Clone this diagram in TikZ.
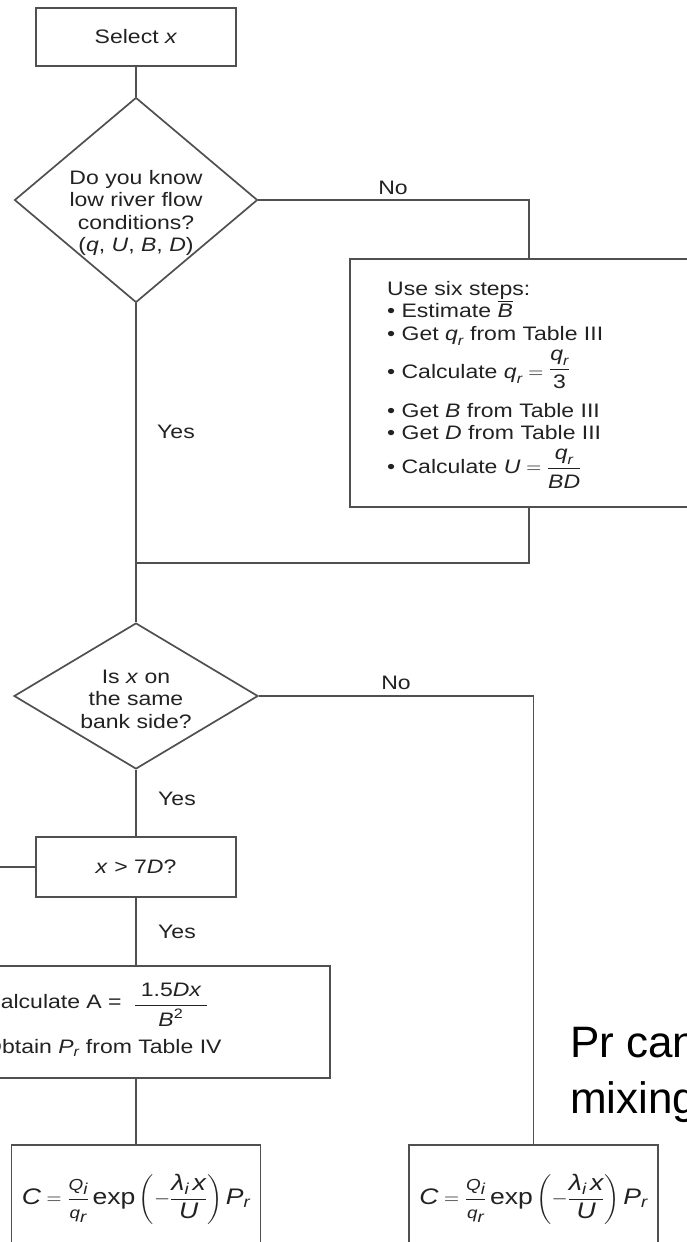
\documentclass[tikz,border=0pt]{standalone}
\usepackage{amsmath}
\usepackage{fontspec}
\setmainfont{Liberation Sans}[FakeStretch=1.18]
\newfontfamily\slidefont{Liberation Sans}
\usetikzlibrary{shapes.geometric}
\definecolor{ln}{HTML}{505050}
\definecolor{tx}{HTML}{222222}
\newcommand\iv[1]{\text{\itshape #1}}
\newcommand\up[1]{\text{#1}}
\newcommand\sm[1]{\text{\fontsize{16}{16}\selectfont\itshape #1}}
\newcommand\tightlines{\lineskiplimit=-100pt\relax}
\begin{document}
\begin{tikzpicture}[x=1pt,y=-1pt,
  every node/.style={text=tx},
  base/.style={font=\fontsize{19.5}{22.5}\selectfont},
  box/.style={draw=ln,line width=1.7pt,rectangle,inner sep=0pt},
  dia/.style={draw=ln,line width=1.7pt,diamond,inner sep=0pt},
  lbl/.style={base,inner sep=0pt},
  conn/.style={draw=ln,line width=1.7pt}]
\useasboundingbox (0,0) rectangle (687,1242);
\clip (0,0) rectangle (687,1242);
\fill[white] (0,0) rectangle (687,1242);
% nodes
\node[box,base,minimum width=200,minimum height=58] (sel) at (136,37) {Select \textit{x}};
\node[dia,minimum width=243,minimum height=205] (d1) at (136,200) {};
\node[lbl,align=center] (d1t) at (136,213) {Do you know\\low river flow\\conditions?\\(\textit{q}, \textit{U}, \textit{B}, \textit{D})};
\node[box,minimum width=358,minimum height=248] (six) at (529,383) {};
\node[lbl,align=left,anchor=north west,font=\fontsize{19.5}{22.5}\selectfont\tightlines] (sixt) at (387,281)
 {Use six steps:\\
  • Estimate $\overline{\iv{B}}$\\
  • Get $\iv{q}_{\iv{r}}$ from Table III\\[15.5pt]
  • Calculate $\iv{q}_{\iv{r}}= \raisebox{4pt}{$\dfrac{\iv{q}_{\iv{r}}}{\up{3}}$}$\\[16.5pt]
  • Get \textit{B} from Table III\\
  • Get \textit{D} from Table III\\[11.5pt]
  • Calculate $\iv{U} = \dfrac{\iv{q}_{\iv{r}}}{\iv{BD}}$};
\coordinate (j1) at (136,563);
\node[dia,minimum width=244,minimum height=146] (d2) at (136,696) {};
\node[lbl,align=center] (d2t) at (136,699) {Is \textit{x} on\\the same\\bank side?};
\node[box,base,minimum width=200,minimum height=60] (x7) at (136,867) {\textit{x} > 7\textit{D}?};
\coordinate (xl) at (-20,867);
\node[box,minimum width=388,minimum height=112] (ca) at (136,1022) {};
\node[lbl,align=left,anchor=west,font=\fontsize{19.5}{22.5}\selectfont\tightlines] (cat) at (-16,1020)
 {Calculate A = \raisebox{-2pt}{$\;\dfrac{\;\up{1.5}\iv{Dx}\;}{\iv{B}^{\up{2}}}$}\\[22pt]
  Obtain $\iv{P}_{\iv{r}}$ from Table IV};
\node[box,minimum width=249,minimum height=115] (cl) at (136,1202.5) {};
\node[box,minimum width=249,minimum height=115] (cr) at (533.5,1202.5) {};
\node[lbl,font=\fontsize{22.5}{26}\selectfont] (clt) at (136,1199)
 {$\iv{C} = \dfrac{\sm{Q}_{\iv{i}}}{\sm{q}_{\iv{r}}}\,\up{exp}\left(-\dfrac{\iv{λ}_{\iv{i}}\,\iv{x}}{\iv{U}}\right)\iv{P}_{\iv{r}}$};
\node[lbl,font=\fontsize{22.5}{26}\selectfont] (crt) at (533.5,1199)
 {$\iv{C} = \dfrac{\sm{Q}_{\iv{i}}}{\sm{q}_{\iv{r}}}\,\up{exp}\left(-\dfrac{\iv{λ}_{\iv{i}}\,\iv{x}}{\iv{U}}\right)\iv{P}_{\iv{r}}$};
% labels
\node[lbl] (no1) at (393,188) {No};
\node[lbl] (yes1) at (176,432) {Yes};
\node[lbl] (no2) at (396,683) {No};
\node[lbl] (yes2) at (177,799) {Yes};
\node[lbl] (yes3) at (177,932) {Yes};
% slide text
\node[anchor=base west,inner sep=0pt,text=black,font=\slidefont\fontsize{44}{56}\selectfont] (pr1) at (570,1057) {Pr can};
\node[anchor=base west,inner sep=0pt,text=black,font=\slidefont\fontsize{44}{56}\selectfont] (pr2) at (570,1113) {mixing};
% connectors
\draw[conn] (sel) -- (d1);
\draw[conn] (d1.east) -| (six.north);
\draw[conn] (d1.south) -- (j1);
\draw[conn] (six.south) |- (j1);
\draw[conn] (j1) -- (d2.north);
\draw[conn] (d2.east) -| (cr.north);
\draw[conn] (d2.south) -- (x7.north);
\draw[conn] (x7.west) -- (xl);
\draw[conn] (x7.south) -- (ca.north);
\draw[conn] (ca.south) -- (cl.north);
\end{tikzpicture}
\end{document}
